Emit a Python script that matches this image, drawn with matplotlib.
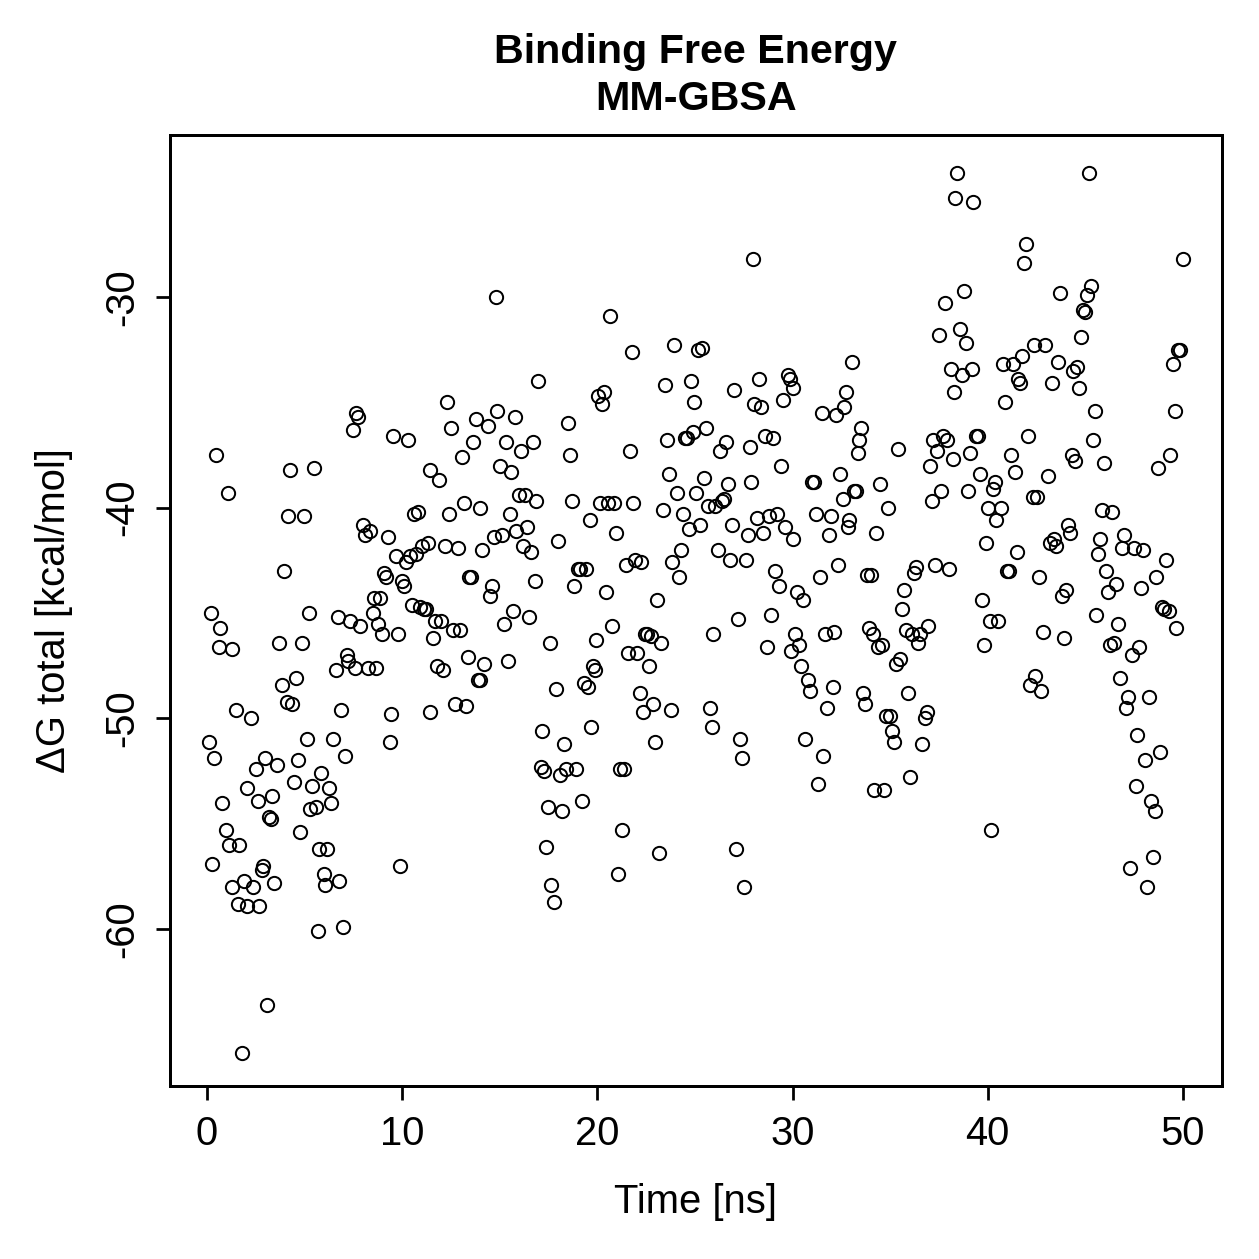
import numpy as np
import matplotlib.pyplot as plt

plt.rcParams['font.family'] = ['Liberation Sans', 'DejaVu Sans']

# Time [ns] and dG total [kcal/mol]
time = [0.1, 0.2, 0.25, 0.35, 0.45, 0.6, 0.65, 0.75, 0.95, 1.05, 1.1, 1.3, 1.3, 1.5, 1.6, 1.65,
        1.8, 1.9, 2.05, 2.05, 2.25, 2.35, 2.5, 2.6, 2.65, 2.8, 2.85, 2.95, 3.05, 3.15, 3.3, 3.35,
        3.45, 3.6, 3.7, 3.85, 3.95, 4.1, 4.15, 4.25, 4.35, 4.45, 4.55, 4.65, 4.75, 4.85, 4.95,
        5.1, 5.2, 5.3, 5.5, 5.4, 5.6, 5.7, 5.75, 5.85, 6.0, 6.05, 6.15, 6.25, 6.35, 6.45, 6.6,
        6.7, 6.75, 6.85, 6.95, 7.05, 7.15, 7.2, 7.3, 7.5, 7.6, 7.65, 7.75, 7.85, 8.0, 8.1, 8.25,
        8.35, 8.5, 8.55, 8.65, 8.75, 8.85, 8.95, 9.05, 9.15, 9.25, 9.35, 9.45, 9.55, 9.7, 9.8,
        9.9, 10.0, 10.1, 10.2, 10.3, 10.4, 10.5, 10.6, 10.7, 10.8, 10.9, 11.0, 11.1, 11.2, 11.3,
        11.4, 11.45, 11.6, 11.7, 11.8, 11.9, 12.0, 12.1, 12.2, 12.3, 12.4, 12.5, 12.6, 12.7,
        12.85, 12.95, 13.05, 13.15, 13.25, 13.35, 13.4, 13.55, 13.65, 13.8, 13.9, 14.0, 14.0,
        14.1, 14.2, 14.4, 14.5, 14.6, 14.7, 14.8, 14.85, 15.0, 15.1, 15.2, 15.3, 15.4, 15.5,
        15.55, 15.7, 15.8, 15.85, 16.0, 16.1, 16.2, 16.3, 16.4, 16.5, 16.6, 16.7, 16.8, 16.85,
        16.95, 17.1, 17.15, 17.25, 17.35, 17.45, 17.55, 17.65, 17.8, 17.9, 18.0, 18.1, 18.2,
        18.3, 18.4, 18.5, 18.6, 18.7, 18.8, 18.9, 19.0, 19.1, 19.2, 19.3, 19.4, 19.5, 19.6,
        19.65, 19.8, 19.9, 19.95, 20.05, 20.15, 20.25, 20.35, 20.45, 20.55, 20.65, 20.75, 20.85,
        20.95, 21.05, 21.15, 21.25, 21.35, 21.45, 21.55, 21.65, 21.75, 21.85, 21.95, 22.05,
        22.2, 22.25, 22.35, 22.45, 22.55, 22.65, 22.75, 22.85, 22.95, 23.05, 23.15, 23.25,
        23.35, 23.45, 23.55, 23.65, 23.75, 23.85, 23.95, 24.1, 24.2, 24.3, 24.4, 24.5, 24.6,
        24.7, 24.8, 24.9, 24.95, 25.05, 25.15, 25.25, 25.35, 25.45, 25.55, 25.65, 25.75, 25.85,
        25.95, 26.05, 26.2, 26.3, 26.4, 26.5, 26.6, 26.7, 26.8, 26.9, 27.0, 27.1, 27.2, 27.3,
        27.4, 27.5, 27.6, 27.7, 27.8, 27.85, 27.95, 28.05, 28.2, 28.3, 28.4, 28.5, 28.6, 28.7,
        28.8, 28.9, 29.0, 29.1, 29.2, 29.3, 29.4, 29.5, 29.6, 29.75, 29.85, 29.9, 30.0, 30.05,
        30.15, 30.25, 30.35, 30.45, 30.55, 30.65, 30.8, 30.9, 31.0, 31.1, 31.2, 31.3, 31.4,
        31.5, 31.55, 31.65, 31.75, 31.85, 31.95, 32.05, 32.15, 32.25, 32.35, 32.45, 32.6, 32.65,
        32.75, 32.85, 32.9, 33.05, 33.15, 33.25, 33.35, 33.4, 33.5, 33.6, 33.7, 33.8, 33.9,
        34.0, 34.1, 34.2, 34.3, 34.4, 34.5, 34.6, 34.7, 34.8, 34.9, 35.0, 35.1, 35.2, 35.3,
        35.4, 35.5, 35.6, 35.7, 35.8, 35.9, 36.0, 36.1, 36.2, 36.35, 36.45, 36.55, 36.65, 36.8,
        36.9, 36.95, 37.05, 37.15, 37.2, 37.3, 37.4, 37.5, 37.6, 37.7, 37.8, 37.9, 38.0, 38.1,
        38.2, 38.25, 38.35, 38.45, 38.6, 38.7, 38.8, 38.9, 39.0, 39.1, 39.2, 39.25, 39.4, 39.5,
        39.6, 39.7, 39.8, 39.9, 40.0, 40.1, 40.15, 40.25, 40.35, 40.45, 40.55, 40.7, 40.8, 40.9,
        41.0, 41.1, 41.2, 41.3, 41.4, 41.5, 41.55, 41.65, 41.75, 41.85, 41.95, 42.05, 42.15,
        42.3, 42.35, 42.45, 42.55, 42.65, 42.75, 42.85, 42.95, 43.1, 43.2, 43.3, 43.4, 43.5,
        43.6, 43.7, 43.8, 43.9, 44.0, 44.1, 44.2, 44.3, 44.35, 44.5, 44.6, 44.7, 44.8, 44.9,
        45.0, 45.1, 45.2, 45.3, 45.4, 45.5, 45.55, 45.65, 45.75, 45.85, 45.95, 46.05, 46.15,
        46.25, 46.35, 46.45, 46.6, 46.7, 46.8, 46.9, 47.0, 47.1, 47.2, 47.3, 47.4, 47.5, 47.6,
        47.65, 47.75, 47.85, 47.95, 48.05, 48.15, 48.25, 48.35, 48.45, 48.55, 48.65, 48.75,
        48.85, 48.95, 49.05, 49.15, 49.3, 49.35, 49.5, 49.6, 49.65, 49.75, 49.85, 50.0]
dg = [-51.1, -45.0, -56.9, -51.9, -37.5, -46.6, -45.7, -54.0, -55.3, -39.3, -56.0, -46.7, -58.0,
      -49.6, -58.8, -56.0, -65.9, -57.7, -53.3, -58.9, -50.0, -58.0, -52.4, -53.9, -58.9, -57.2,
      -57.0, -51.9, -63.6, -54.7, -54.8, -53.7, -57.8, -52.2, -46.4, -48.4, -43.0, -49.2, -40.4,
      -38.2, -49.3, -53.0, -48.1, -52.0, -55.4, -46.4, -40.4, -51.0, -45.0, -54.3, -38.1, -53.2,
      -54.2, -60.1, -56.2, -52.6, -57.4, -57.9, -56.2, -53.3, -54.0, -51.0, -47.7, -45.2, -57.7,
      -49.6, -59.9, -51.8, -47.0, -47.3, -45.4, -36.3, -47.6, -35.5, -35.7, -45.6, -40.8, -41.3,
      -47.6, -41.1, -45.0, -44.3, -47.6, -45.5, -44.3, -46.0, -43.1, -43.3, -41.4, -51.1, -49.8,
      -36.6, -42.3, -46.0, -57.0, -43.5, -43.7, -42.6, -36.8, -42.3, -44.6, -40.3, -42.2, -40.2,
      -44.7, -41.8, -44.8, -44.8, -41.7, -38.2, -49.7, -46.2, -45.4, -47.5, -38.7, -45.4, -47.7,
      -41.8, -35.0, -40.3, -36.2, -45.8, -49.3, -41.9, -45.8, -37.6, -39.8, -49.4, -47.1, -43.3,
      -43.3, -36.9, -35.8, -48.2, -48.2, -40.0, -42.0, -47.4, -36.1, -44.2, -43.7, -41.4, -30.0,
      -35.4, -38.0, -41.3, -45.5, -36.9, -47.3, -40.3, -38.3, -44.9, -35.7, -41.1, -39.4, -37.3,
      -41.8, -39.4, -40.9, -45.2, -42.1, -36.9, -43.5, -39.7, -34.0, -52.3, -50.6, -52.5, -56.1,
      -54.2, -46.4, -57.9, -58.7, -48.6, -41.6, -52.7, -54.4, -51.2, -52.4, -36.0, -37.5, -39.7,
      -43.7, -52.4, -42.9, -42.9, -53.9, -48.3, -42.9, -48.5, -40.6, -50.4, -47.5, -47.7, -46.3,
      -34.7, -39.8, -35.1, -34.5, -44.0, -39.8, -30.9, -45.6, -39.8, -41.2, -57.4, -52.4, -55.3,
      -52.4, -42.7, -46.9, -37.3, -32.6, -39.8, -42.5, -46.9, -48.8, -42.6, -49.7, -46.0, -46.0,
      -47.5, -46.1, -49.3, -51.1, -44.4, -56.4, -46.4, -40.1, -34.2, -36.8, -38.4, -49.6, -42.6,
      -32.3, -39.3, -43.3, -42.0, -40.3, -36.7, -36.7, -41.0, -34.0, -36.4, -35.0, -39.3, -32.5,
      -40.8, -32.4, -38.6, -36.2, -39.9, -49.5, -50.4, -46.0, -39.9, -42.0, -37.3, -39.7, -39.6,
      -36.9, -38.9, -42.5, -40.8, -34.4, -56.2, -45.3, -51.0, -51.9, -58.0, -42.5, -41.3, -37.1,
      -38.8, -28.2, -35.1, -40.5, -33.9, -35.2, -41.2, -36.6, -46.6, -40.4, -45.1, -36.7, -43.0,
      -40.3, -43.7, -38.0, -34.9, -40.9, -33.7, -33.9, -46.8, -41.5, -34.3, -46.0, -44.0, -46.5,
      -47.5, -44.4, -51.0, -48.2, -48.7, -38.8, -38.8, -40.3, -53.1, -43.3, -35.5, -51.8, -46.0,
      -49.5, -41.3, -40.4, -48.5, -45.9, -35.6, -42.7, -38.4, -39.6, -35.2, -34.5, -40.9, -40.6,
      -33.1, -39.2, -39.2, -37.4, -36.8, -36.2, -48.8, -49.3, -43.2, -45.7, -43.2, -46.0, -53.4,
      -41.2, -46.6, -38.9, -46.5, -53.4, -49.9, -40.0, -49.9, -50.6, -51.1, -47.4, -37.2, -47.2,
      -44.8, -43.9, -45.8, -48.8, -52.8, -46.0, -43.1, -42.8, -46.4, -46.0, -51.2, -50.0, -49.7,
      -45.6, -38.0, -39.7, -36.8, -42.7, -37.3, -31.8, -39.2, -36.6, -30.3, -36.8, -42.9, -33.4,
      -37.7, -34.5, -25.3, -24.1, -31.5, -33.7, -29.7, -32.2, -39.2, -37.4, -33.4, -25.5, -36.6,
      -36.6, -38.4, -44.4, -46.5, -41.7, -40.0, -45.4, -55.3, -39.1, -38.8, -40.6, -45.4, -40.0,
      -33.2, -35.0, -43.0, -43.0, -37.5, -33.2, -38.3, -42.1, -33.9, -34.1, -32.8, -28.4, -27.5,
      -36.6, -48.4, -39.5, -32.3, -48.0, -39.5, -43.3, -48.7, -45.9, -32.3, -38.5, -41.7, -34.1,
      -41.5, -41.8, -33.1, -29.8, -44.2, -46.2, -43.9, -40.8, -41.2, -37.5, -33.5, -37.8, -33.3,
      -34.3, -31.9, -30.6, -30.7, -29.9, -24.1, -29.5, -36.8, -35.4, -45.1, -42.2, -41.5, -40.1,
      -37.9, -43.0, -44.0, -46.5, -40.2, -46.4, -43.6, -45.5, -48.1, -41.9, -41.3, -49.5, -49.0,
      -57.1, -47.0, -41.9, -53.2, -50.8, -46.6, -43.8, -42.0, -52.0, -58.0, -49.0, -53.9, -56.6,
      -54.4, -43.3, -38.1, -51.6, -44.7, -44.8, -42.5, -44.9, -37.5, -33.2, -35.4, -45.7, -32.5,
      -32.5, -28.2]

xticks = [0, 10, 20, 30, 40, 50]
yticks = [-60, -50, -40, -30]

fig = plt.figure(figsize=(1259 / 180, 1259 / 180), dpi=180)
ax = fig.add_axes([0.135, 0.1374, 0.8355, 0.7554])

ax.plot(time, dg, 'o', mfc='none', mec='black', ms=5.3, mew=0.8)

ax.set_xlim(-1.9, 52.0)
ax.set_ylim(-67.45, -22.31)
ax.set_xticks(xticks)
ax.set_yticks(yticks)
ax.set_yticklabels([str(t) for t in yticks], rotation=90, va='center')
ax.tick_params(direction='out', length=5.5, width=1.1, labelsize=16, pad=6)
for s in ax.spines.values():
    s.set_linewidth(1.2)

ax.set_xlabel('Time [ns]', fontsize=16, labelpad=12)
ax.set_ylabel('ΔG total [kcal/mol]', fontsize=16, labelpad=12)
ax.set_title('Binding Free Energy\nMM-GBSA', fontsize=16.5, fontweight='bold', pad=10, linespacing=1.3)

fig.savefig('out.png', dpi=180)
